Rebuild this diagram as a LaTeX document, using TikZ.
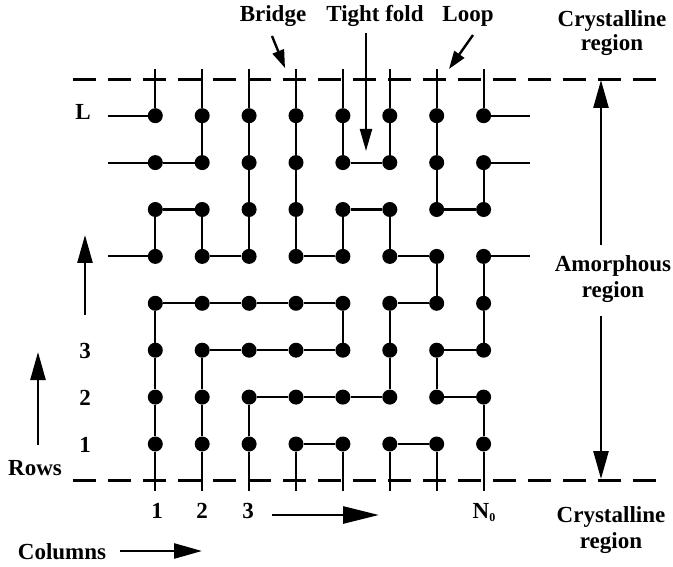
\documentclass[tikz,border=0pt]{standalone}
\usepackage{fontspec}
\setmainfont{Liberation Serif}
\usetikzlibrary{arrows.meta}
\begin{document}
\begin{tikzpicture}[x=1pt,y=-1pt,
  dot/.style={circle,fill=black,inner sep=0pt,minimum size=15pt},
  chainline/.style={line width=2.1pt},
  border/.style={line width=3pt,dash pattern=on 23pt off 12pt},
  bigarrow/.style={line width=2.6pt,-{Triangle[length=28pt,width=15pt]}},
  midarrow/.style={line width=2.2pt,-{Triangle[length=22pt,width=12pt]}},
  smallarrow/.style={line width=2.4pt,-{Triangle[length=18pt,width=12pt]}},
  lbl/.style={font=\fontsize{23}{26}\selectfont\bfseries,inner sep=0pt,anchor=base}]
\useasboundingbox (0,0) rectangle (673,567);

% crystalline borders
\coordinate (tl) at (73,80);
\coordinate (tr) at (660,80);
\coordinate (bl) at (73,480);
\coordinate (br) at (660,480);
\draw[border] (tl) -- (tr);
\draw[border] (bl) -- (br);

% lattice sites
\foreach \c in {1,...,8}{
  \foreach \r in {1,...,8}{
    \node[dot] (n\c\r) at ({155.3+46.9*(\c-1)},{444-46.9*(\r-1)}) {};
  }
  \coordinate (t\c) at ({155.3+46.9*(\c-1)},69);
  \coordinate (b\c) at ({155.3+46.9*(\c-1)},491);
  \draw[chainline] (n\c8) -- (t\c);
  \draw[chainline] (n\c1) -- (b\c);
}
\foreach \r in {8,7,5}{
  \coordinate (l\r) at (108,{444-46.9*(\r-1)});
  \coordinate (r\r) at (530,{444-46.9*(\r-1)});
  \draw[chainline] (n1\r) -- (l\r);
  \draw[chainline] (n8\r) -- (r\r);
}

% vertical bonds
\draw[chainline] (n16) -- (n15);
\draw[chainline] (n14) -- (n13) -- (n12) -- (n11);
\draw[chainline] (n28) -- (n27);
\draw[chainline] (n26) -- (n25);
\draw[chainline] (n23) -- (n22) -- (n21);
\draw[chainline] (n38) -- (n37) -- (n36) -- (n35);
\draw[chainline] (n32) -- (n31);
\draw[chainline] (n48) -- (n47) -- (n46) -- (n45);
\draw[chainline] (n58) -- (n57);
\draw[chainline] (n56) -- (n55);
\draw[chainline] (n54) -- (n53);
\draw[chainline] (n68) -- (n67);
\draw[chainline] (n66) -- (n65);
\draw[chainline] (n64) -- (n63) -- (n62);
\draw[chainline] (n78) -- (n77) -- (n76);
\draw[chainline] (n75) -- (n74);
\draw[chainline] (n73) -- (n72);
\draw[chainline] (n87) -- (n86);
\draw[chainline] (n85) -- (n84) -- (n83);
\draw[chainline] (n82) -- (n81);

% horizontal bonds
\draw[chainline] (n17) -- (n27);
\draw[chainline] (n57) -- (n67);
\draw[chainline] (n16) -- (n26);
\draw[chainline] (n56) -- (n66);
\draw[chainline] (n76) -- (n86);
\draw[chainline] (n25) -- (n35);
\draw[chainline] (n45) -- (n55);
\draw[chainline] (n65) -- (n75);
\draw[chainline] (n14) -- (n24) -- (n34) -- (n44) -- (n54);
\draw[chainline] (n64) -- (n74);
\draw[chainline] (n23) -- (n33) -- (n43) -- (n53);
\draw[chainline] (n73) -- (n83);
\draw[chainline] (n32) -- (n42) -- (n52) -- (n62);
\draw[chainline] (n72) -- (n82);
\draw[chainline] (n41) -- (n51);
\draw[chainline] (n61) -- (n71);

% top labels and arrows
\node[lbl] (bridge) at (273,22) {Bridge};
\node[lbl] (tight) at (375,22) {Tight fold};
\node[lbl] (loop) at (468,22) {Loop};
\coordinate (bra) at (272,36);
\coordinate (brb) at (285,68);
\draw[smallarrow] (bra) -- (brb);
\coordinate (tfa) at (366,33);
\coordinate (tfb) at (366,151);
\draw[midarrow] (tfa) -- (tfb);
\coordinate (lpa) at (473,35);
\coordinate (lpb) at (449,69);
\draw[smallarrow] (lpa) -- (lpb);

% right side labels
\node[lbl] (cr1) at (612,27) {Crystalline};
\node[lbl] (cr1b) at (612,51) {region};
\node[lbl] (am) at (613,272) {Amorphous};
\node[lbl] (amb) at (613,298) {region};
\node[lbl] (cr2) at (611,522) {Crystalline};
\node[lbl] (cr2b) at (611,548) {region};
\coordinate (ua) at (601,245);
\coordinate (ub) at (601,80);
\coordinate (da) at (601,316);
\coordinate (db) at (601,479);
\draw[bigarrow] (ua) -- (ub);
\draw[bigarrow] (da) -- (db);

% left labels
\node[lbl] (lL) at (83,120) {L};
\node[lbl] (l3) at (85,358) {3};
\node[lbl] (l2) at (85,405) {2};
\node[lbl] (l1) at (85,452) {1};
\coordinate (la) at (85,315);
\coordinate (lb) at (85,235);
\draw[bigarrow] (la) -- (lb);
\node[lbl] (rows) at (35,475) {Rows};
\coordinate (ra) at (38,445);
\coordinate (rb) at (38,352);
\draw[bigarrow] (ra) -- (rb);

% bottom labels
\node[lbl] (c1) at (157,518) {1};
\node[lbl] (c2) at (202,518) {2};
\node[lbl] (c3) at (248,518) {3};
\node[lbl] (cN) at (484,518) {N\raisebox{-3pt}{\fontsize{12}{12}\selectfont 0}};
\coordinate (ca) at (272,515);
\coordinate (cb) at (379,515);
\draw[line width=2.6pt,-{Triangle[length=36pt,width=17pt]}] (ca) -- (cb);
\node[lbl] (cols) at (62,559) {Columns};
\coordinate (cola) at (120,551);
\coordinate (colb) at (202,551);
\draw[bigarrow] (cola) -- (colb);
\end{tikzpicture}
\end{document}
